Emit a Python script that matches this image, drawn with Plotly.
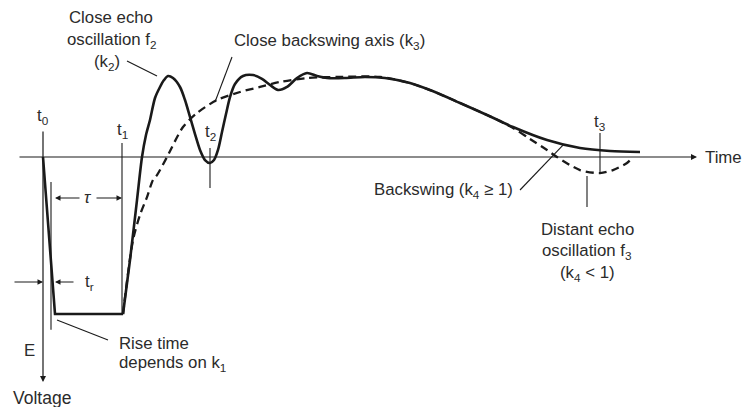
import plotly.graph_objects as go

# Time scale: t0 = 0; voltage normalised to the pulse depth E = -1
pulse_t = [0.0, 0.12, 0.80]
pulse_v = [0.0, -1.0, -1.0]

# Received echo after t1 (close echo oscillation + slow backswing)
echo_t = [0.80, 0.87, 0.94, 0.99, 1.03, 1.07, 1.12, 1.17, 1.21, 1.25, 1.30, 1.37,
          1.42, 1.47, 1.52, 1.57, 1.62, 1.67, 1.71, 1.75, 1.79, 1.83, 1.87, 1.92,
          2.00, 2.10, 2.19, 2.27, 2.35, 2.44, 2.54, 2.64, 2.74, 2.84, 3.02, 3.22,
          3.42, 3.67, 3.92, 4.17, 4.44, 4.70, 5.04, 5.37, 5.67, 5.97]
echo_v = [-1.0, -0.656, -0.274, 0.0, 0.140, 0.236, 0.376, 0.446, 0.490, 0.516, 0.503, 0.446,
          0.363, 0.255, 0.146, 0.045, -0.019, -0.038, -0.019, 0.045, 0.159, 0.274, 0.382, 0.465,
          0.516, 0.522, 0.497, 0.459, 0.427, 0.446, 0.503, 0.535, 0.516, 0.503, 0.503, 0.510,
          0.503, 0.471, 0.414, 0.344, 0.268, 0.191, 0.108, 0.057, 0.038, 0.032]

# Close backswing axis and the distant echo oscillation (dashed)
axis_t = [0.80, 0.90, 0.97, 1.04, 1.10, 1.14, 1.24, 1.40, 1.54, 1.74, 1.97, 2.17,
          2.37, 2.64, 2.97, 3.37, 3.67, 3.92, 4.17, 4.44, 4.70, 4.87, 5.04, 5.14,
          5.37, 5.57, 5.70, 5.84, 5.90]
axis_v = [-1.0, -0.529, -0.369, -0.255, -0.146, -0.115, 0.0, 0.191, 0.280, 0.363, 0.414, 0.446,
          0.478, 0.503, 0.510, 0.510, 0.471, 0.414, 0.344, 0.268, 0.185, 0.115, 0.045, 0.0,
          -0.083, -0.102, -0.083, -0.038, 0.0]

INK = "#1a1a1a"
TXT = "#2b2b2b"
FONT = dict(family="Liberation Sans, Arial, sans-serif", size=16.8, color=TXT)

fig = go.Figure()

fig.add_trace(go.Scatter(x=pulse_t, y=pulse_v, mode="lines",
                         line=dict(color=INK, width=2.6), hoverinfo="skip"))
fig.add_trace(go.Scatter(x=axis_t, y=axis_v, mode="lines",
                         line=dict(color=INK, width=2.3, dash="8px,5px", shape="spline",
                                   smoothing=0.8), hoverinfo="skip"))
fig.add_trace(go.Scatter(x=echo_t, y=echo_v, mode="lines",
                         line=dict(color=INK, width=2.6, shape="spline", smoothing=0.8),
                         hoverinfo="skip"))

shapes = []


def seg(x0, y0, x1, y1, w=1.1):
    shapes.append(dict(type="line", xref="x", yref="y", x0=x0, y0=y0, x1=x1, y1=y1,
                       line=dict(color=INK, width=w)))


# marker ticks
seg(0.79, 0.089, 0.79, -1.0)
seg(1.67, 0.057, 1.67, -0.197)
seg(5.57, 0.153, 5.57, -0.102)
# left boundary of the pulse width
seg(0.08, -0.159, 0.08, -1.10)
# leader lines
seg(0.84, 0.611, 1.14, 0.516)
seg(1.89, 0.637, 1.72, 0.350)
seg(4.77, -0.210, 5.20, 0.076)
seg(5.44, -0.121, 5.44, -0.318)
seg(0.14, -1.038, 0.65, -1.166)

annotations = []


def arrow(x0, y0, x1, y1, w=1.3, head=2, size=1.0):
    annotations.append(dict(x=x1, y=y1, ax=x0, ay=y0, xref="x", yref="y", axref="x", ayref="y",
                            text="", showarrow=True, arrowhead=head, arrowsize=size,
                            arrowwidth=w, arrowcolor=INK))


def label(x, y, text, xanchor="center", size=16.8, italic=False):
    f = dict(FONT)
    f["size"] = size
    if italic:
        f["style"] = "italic"
    annotations.append(dict(x=x, y=y, xref="x", yref="y", text=text, showarrow=False,
                            xanchor=xanchor, yanchor="middle", font=f))


# axes
arrow(-0.25, 0.0, 6.54, 0.0, w=1.2)
arrow(0.0, 0.172, 0.0, -1.433, w=1.2)
# pulse width tau
arrow(0.38, -0.261, 0.12, -0.261, w=1.1)
arrow(0.52, -0.261, 0.79, -0.261, w=1.1)
label(0.45, -0.255, "τ", italic=True)
# rise time t_r
arrow(-0.30, -0.796, 0.0, -0.796, w=1.1)
arrow(0.32, -0.796, 0.12, -0.796, w=1.1)
label(0.46, -0.80, "t<sub>r</sub>")

label(0.0, 0.255, "t<sub>0</sub>")
label(0.79, 0.172, "t<sub>1</sub>")
label(1.67, 0.159, "t<sub>2</sub>")
label(5.57, 0.223, "t<sub>3</sub>")

label(0.68, 0.888, "Close echo")
label(0.69, 0.745, "oscillation f<sub>2</sub>")
label(0.64, 0.600, "(k<sub>2</sub>)")
label(1.89, 0.735, "Close backswing axis (k<sub>3</sub>)", xanchor="left")
label(4.72, -0.210, "Backswing (k<sub>4</sub> ≥ 1)", xanchor="right")
label(5.44, -0.462, "Distant echo")
label(5.44, -0.600, "oscillation f<sub>3</sub>")
label(5.44, -0.742, "(k<sub>4</sub> &lt; 1)")
label(6.60, 0.0, "Time", xanchor="left")
label(-0.14, -1.235, "E")
label(-0.01, -1.535, "Voltage", size=17.5)
label(0.74, -1.185, "Rise time", xanchor="left")
label(0.74, -1.315, "depends on k<sub>1</sub>", xanchor="left")

fig.update_layout(
    width=746, height=407,
    margin=dict(l=0, r=0, t=0, b=0),
    paper_bgcolor="white", plot_bgcolor="white",
    showlegend=False,
    xaxis=dict(range=[-0.43, 7.03], visible=False, fixedrange=True),
    yaxis=dict(range=[-1.592, 1.0], visible=False, fixedrange=True),
    shapes=shapes, annotations=annotations,
)

fig.write_html("out.html")
